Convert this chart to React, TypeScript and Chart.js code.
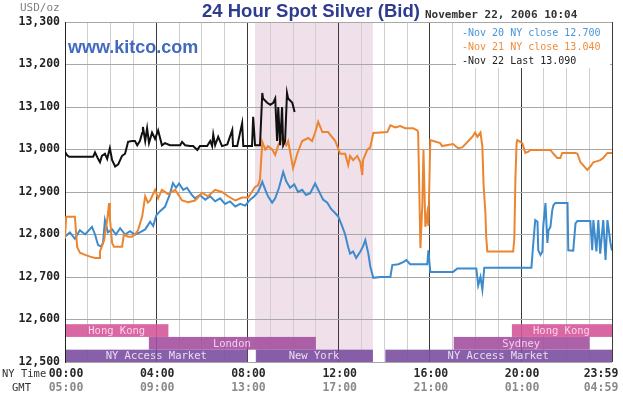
import React, { useEffect, useRef } from "react";
import { Chart, registerables } from "chart.js";

Chart.register(...registerables);

// ---- Data (minutes since 00:00 NY time, USD/oz) ----
const nov20Times = [0, 13, 26, 39, 53, 71, 79, 87, 95, 100, 105, 113, 124, 134, 145, 158, 171, 184, 197, 211, 224, 232, 240, 250, 263, 276, 284, 292, 300, 311, 321, 332, 342, 355, 369, 382, 395, 408, 421, 434, 448, 461, 474, 487, 498, 508, 519, 527, 534, 545, 553, 563, 574, 582, 592, 603, 613, 624, 634, 645, 658, 669, 679, 690, 700, 711, 719, 729, 737, 745, 750, 758, 766, 777, 784, 790, 798, 803, 811, 829, 856, 861, 877, 890, 898, 908, 927, 953, 956, 961, 987, 1021, 1032, 1082, 1087, 1093, 1098, 1103, 1198, 1227, 1232, 1237, 1243, 1245, 1251, 1256, 1258, 1264, 1269, 1272, 1277, 1282, 1285, 1290, 1322, 1324, 1337, 1343, 1348, 1382, 1387, 1390, 1398, 1403, 1408, 1416, 1422, 1427, 1435, 1439];
const nov20Values = [12.795, 12.805, 12.79, 12.81, 12.8, 12.818, 12.8, 12.775, 12.772, 12.78, 12.834, 12.805, 12.812, 12.8, 12.815, 12.8, 12.808, 12.8, 12.805, 12.812, 12.83, 12.82, 12.845, 12.855, 12.865, 12.895, 12.921, 12.91, 12.92, 12.905, 12.91, 12.895, 12.885, 12.893, 12.882, 12.89, 12.878, 12.885, 12.872, 12.878, 12.866, 12.872, 12.868, 12.882, 12.89, 12.9, 12.924, 12.905, 12.89, 12.875, 12.885, 12.91, 12.947, 12.925, 12.91, 12.918, 12.9, 12.905, 12.893, 12.897, 12.92, 12.9, 12.882, 12.875, 12.86, 12.85, 12.842, 12.82, 12.8, 12.77, 12.755, 12.76, 12.745, 12.76, 12.772, 12.787, 12.755, 12.725, 12.698, 12.7, 12.7, 12.728, 12.73, 12.735, 12.74, 12.73, 12.73, 12.73, 12.763, 12.712, 12.712, 12.712, 12.72, 12.72, 12.68, 12.7, 12.67, 12.722, 12.722, 12.722, 12.78, 12.834, 12.83, 12.763, 12.752, 12.76, 12.818, 12.874, 12.78, 12.81, 12.818, 12.858, 12.869, 12.874, 12.874, 12.763, 12.762, 12.826, 12.832, 12.832, 12.763, 12.834, 12.76, 12.834, 12.755, 12.834, 12.74, 12.834, 12.78, 12.762];

const nov21Times = [0, 3, 26, 32, 39, 53, 66, 79, 90, 92, 103, 111, 116, 118, 124, 129, 150, 155, 166, 176, 184, 192, 203, 211, 218, 224, 237, 245, 255, 271, 290, 308, 324, 342, 361, 376, 395, 413, 429, 448, 466, 482, 500, 508, 513, 519, 527, 534, 545, 553, 561, 571, 582, 587, 600, 611, 624, 640, 650, 658, 666, 677, 692, 711, 724, 737, 745, 750, 758, 769, 777, 782, 784, 795, 803, 811, 848, 856, 869, 882, 895, 916, 927, 929, 932, 935, 940, 943, 948, 953, 956, 961, 987, 992, 1021, 1034, 1045, 1058, 1072, 1079, 1085, 1093, 1098, 1101, 1106, 1108, 1111, 1179, 1182, 1185, 1188, 1190, 1203, 1211, 1219, 1224, 1251, 1277, 1285, 1295, 1303, 1308, 1343, 1348, 1356, 1364, 1374, 1382, 1390, 1398, 1408, 1416, 1427, 1439];
const nov21Values = [12.79, 12.842, 12.842, 12.771, 12.757, 12.752, 12.748, 12.745, 12.745, 12.76, 12.787, 12.834, 12.874, 12.84, 12.78, 12.771, 12.771, 12.8, 12.795, 12.795, 12.8, 12.81, 12.842, 12.89, 12.875, 12.88, 12.905, 12.885, 12.905, 12.895, 12.905, 12.88, 12.876, 12.88, 12.898, 12.89, 12.905, 12.9, 12.89, 12.88, 12.887, 12.887, 12.912, 12.916, 12.93, 13.018, 13.0, 13.008, 13.0, 12.987, 13.01, 13.027, 13.01, 13.02, 12.956, 12.99, 13.02, 13.027, 13.02, 13.04, 13.065, 13.041, 13.041, 13.02, 12.99, 12.99, 12.963, 12.985, 12.975, 12.985, 12.97, 12.94, 12.975, 12.999, 13.005, 13.039, 13.041, 13.057, 13.052, 13.055, 13.05, 13.05, 13.045, 13.04, 12.905, 12.768, 12.87, 13.0, 12.818, 12.85, 12.82, 13.022, 13.015, 13.008, 13.013, 13.003, 13.005, 13.017, 13.03, 13.04, 13.03, 13.04, 13.006, 12.92, 12.85, 12.795, 12.76, 12.76, 12.79, 12.935, 13.015, 13.022, 13.015, 12.992, 12.995, 12.999, 12.999, 12.999, 12.99, 12.98, 12.98, 12.992, 12.992, 12.99, 12.97, 12.962, 12.952, 12.96, 12.97, 12.972, 12.975, 12.98, 12.992, 12.992];

const nov22Times = [0, 5, 11, 74, 79, 87, 92, 97, 105, 111, 118, 124, 132, 140, 150, 158, 166, 176, 184, 190, 197, 203, 205, 211, 216, 221, 229, 237, 245, 255, 263, 276, 303, 308, 316, 329, 337, 348, 355, 374, 382, 387, 390, 395, 403, 413, 427, 440, 442, 453, 466, 469, 492, 495, 500, 513, 519, 521, 532, 540, 548, 553, 558, 561, 566, 571, 574, 579, 584, 587, 598, 604];
const nov22Values = [12.995, 12.987, 12.983, 12.983, 12.993, 12.978, 12.97, 12.985, 12.99, 12.978, 13.003, 12.975, 12.96, 12.965, 12.985, 12.99, 13.018, 13.02, 13.02, 13.01, 13.02, 13.039, 13.053, 13.02, 13.05, 13.015, 13.04, 13.025, 13.045, 13.01, 13.015, 13.01, 13.01, 13.018, 13.01, 13.008, 13.008, 12.999, 13.008, 13.008, 13.02, 13.008, 13.035, 13.01, 13.03, 13.008, 13.012, 13.046, 13.008, 13.008, 13.062, 13.008, 13.008, 13.077, 13.01, 13.01, 13.133, 13.12, 13.11, 13.105, 13.11, 13.12, 13.02, 13.1, 13.01, 13.1, 13.01, 13.02, 13.133, 13.12, 13.11, 13.088];

const seriesLabels = ["-Nov 20 NY close 12.700", "-Nov 21 NY close 13.040", "-Nov 22 Last 13.090"];
const seriesColors = ["#3d8bcd", "#ec8530", "#111111"];
const legendColors = ["#4a94d6", "#ee8d3c", "#222222"];

// ---- Axes / ticks ----
const yTickValues = [12.5, 12.6, 12.7, 12.8, 12.9, 13.0, 13.1, 13.2, 13.3];
const hourTicks = [0, 60, 120, 180, 240, 300, 360, 420, 480, 540, 600, 660, 720, 780, 840, 900, 960, 1020, 1080, 1140, 1200, 1260, 1320, 1380, 1439];
const majorTicks = [0, 240, 480, 720, 960, 1200, 1439];
const nyTimeLabels = ["00:00", "04:00", "08:00", "12:00", "16:00", "20:00", "23:59"];
const gmtLabels = ["05:00", "09:00", "13:00", "17:00", "21:00", "01:00", "04:59"];

// ---- Market sessions ----
const bandNames = ["Hong Kong", "London", "NY Access Market", "New York", "NY Access Market", "Sydney", "Hong Kong"];
const bandStarts = [0, 218, 0, 500, 840, 1020, 1173];
const bandEnds = [272, 660, 480, 810, 1439, 1380, 1439];
const bandRows = [0, 1, 2, 2, 2, 1, 0];
const bandFill = ["#d4579a", "#a4509f", "#7b4fa0", "#7b4fa0", "#7b4fa0", "#a4509f", "#d4579a"];
const bandText = ["#fbd3ea", "#f6cdf0", "#e9dcf6", "#e9dcf6", "#e9dcf6", "#f6cdf0", "#fbd3ea"];
const closedStarts = [0, 1380, 480, 810];
const closedEnds = [218, 1439, 500, 840];
const closedRows = [1, 1, 2, 2];
const rowTops = [12.589, 12.559, 12.529];
const rowBottoms = [12.559, 12.529, 12.5];
const nyShadeStart = 500;
const nyShadeEnd = 810;

const MONO = "'DejaVu Sans Mono', monospace";
const SANS = "'Liberation Sans', Arial, sans-serif";

const decorPlugin = {
  id: "decor",
  beforeDraw(chart: any) {
    const { ctx, chartArea, scales } = chart;
    const x = scales.x;
    ctx.save();
    ctx.fillStyle = "#f0e0ea";
    const x0 = x.getPixelForValue(nyShadeStart);
    const x1 = x.getPixelForValue(nyShadeEnd);
    ctx.fillRect(x0, chartArea.top, x1 - x0, chartArea.bottom - chartArea.top);
    ctx.restore();
  },
  beforeDatasetsDraw(chart: any) {
    const { ctx, scales } = chart;
    const x = scales.x;
    const y = scales.y;
    ctx.save();
    for (let i = 0; i < closedStarts.length; i++) {
      const x0 = x.getPixelForValue(closedStarts[i]);
      const x1 = x.getPixelForValue(closedEnds[i]);
      const y0 = y.getPixelForValue(rowTops[closedRows[i]]);
      const y1 = y.getPixelForValue(rowBottoms[closedRows[i]]);
      ctx.fillStyle = "#ffffff";
      ctx.fillRect(x0 + 1, y0, x1 - x0 - 1, y1 - y0);
    }
    ctx.globalAlpha = 0.9;
    for (let i = 0; i < bandNames.length; i++) {
      const x0 = x.getPixelForValue(bandStarts[i]);
      const x1 = x.getPixelForValue(bandEnds[i]);
      const y0 = y.getPixelForValue(rowTops[bandRows[i]]);
      const y1 = y.getPixelForValue(rowBottoms[bandRows[i]]);
      ctx.fillStyle = bandFill[i];
      ctx.fillRect(x0 + 1, y0, x1 - x0 - 1, y1 - y0);
    }
    ctx.globalAlpha = 1;
    ctx.font = `10.5px ${MONO}`;
    ctx.textAlign = "center";
    ctx.textBaseline = "middle";
    for (let i = 0; i < bandNames.length; i++) {
      const x0 = x.getPixelForValue(bandStarts[i]);
      const x1 = x.getPixelForValue(bandEnds[i]);
      const y0 = y.getPixelForValue(rowTops[bandRows[i]]);
      const y1 = y.getPixelForValue(rowBottoms[bandRows[i]]);
      ctx.fillStyle = bandText[i];
      ctx.fillText(bandNames[i], (x0 + x1) / 2, (y0 + y1) / 2 + 0.5);
    }
    ctx.restore();
  },
  afterDatasetsDraw(chart: any) {
    const { ctx } = chart;
    ctx.save();
    ctx.fillStyle = "#ffffff";
    ctx.fillRect(456, 23, 154, 45);
    ctx.font = `10px ${MONO}`;
    ctx.textAlign = "left";
    ctx.textBaseline = "middle";
    for (let i = 0; i < seriesLabels.length; i++) {
      ctx.fillStyle = legendColors[i];
      ctx.fillText(seriesLabels[i], 462, 33 + i * 14);
    }
    ctx.restore();
  },
  afterDraw(chart: any) {
    const { ctx, scales } = chart;
    const x = scales.x;
    ctx.save();
    // title
    ctx.textBaseline = "middle";
    ctx.textAlign = "center";
    ctx.fillStyle = "#2f3b8f";
    ctx.font = `bold 18.5px ${SANS}`;
    ctx.fillText("24 Hour Spot Silver (Bid)", 311, 12);
    ctx.textAlign = "left";
    ctx.fillStyle = "#333333";
    ctx.font = `bold 11px ${MONO}`;
    ctx.fillText("November 22, 2006 10:04", 425, 15);
    // unit
    ctx.fillStyle = "#808080";
    ctx.font = `11px ${MONO}`;
    ctx.fillText("USD/oz", 20, 8);
    // watermark
    ctx.fillStyle = "#4169c2";
    ctx.font = `bold 18px ${SANS}`;
    ctx.fillText("www.kitco.com", 68, 48);
    // x labels
    ctx.font = `10.5px ${MONO}`;
    ctx.fillStyle = "#333333";
    ctx.fillText("NY Time", 2, 374);
    ctx.fillText("GMT", 12, 388);
    ctx.textAlign = "center";
    for (let i = 0; i < majorTicks.length; i++) {
      let px = x.getPixelForValue(majorTicks[i]);
      if (i === majorTicks.length - 1) px = Math.min(px, 600);
      ctx.font = `bold 11.5px ${MONO}`;
      ctx.fillStyle = "#2a2a2a";
      ctx.fillText(nyTimeLabels[i], px + 1, 374);
      ctx.fillStyle = "#8a8a8a";
      ctx.fillText(gmtLabels[i], px + 1, 388);
    }
    ctx.restore();
  },
};

export default function App() {
  const canvasRef = useRef<HTMLCanvasElement | null>(null);

  useEffect(() => {
    document.body.style.margin = "0";
    const canvas = canvasRef.current;
    if (!canvas) return;
    const mk = (times: number[], values: number[]) => times.map((t, i) => ({ x: t, y: values[i] }));
    const chart = new Chart(canvas, {
      type: "line",
      data: {
        datasets: [
          { label: seriesLabels[2], data: mk(nov22Times, nov22Values), borderColor: seriesColors[2], borderWidth: 2, pointRadius: 0, tension: 0, order: 0 },
          { label: seriesLabels[1], data: mk(nov21Times, nov21Values), borderColor: seriesColors[1], borderWidth: 2, pointRadius: 0, tension: 0, order: 1 },
          { label: seriesLabels[0], data: mk(nov20Times, nov20Values), borderColor: seriesColors[0], borderWidth: 2, pointRadius: 0, tension: 0, order: 2 },
        ],
      },
      options: {
        animation: false,
        responsive: false,
        devicePixelRatio: 1,
        events: [],
        layout: { padding: { top: 22, right: 11, left: 0, bottom: 0 }, autoPadding: false },
        plugins: { legend: { display: false }, title: { display: false }, tooltip: { enabled: false } },
        scales: {
          x: {
            type: "linear",
            min: 0,
            max: 1439,
            position: "bottom",
            afterBuildTicks: (s: any) => {
              s.ticks = hourTicks.map((v) => ({ value: v }));
            },
            afterFit: (s: any) => {
              s.height = 33;
            },
            ticks: { display: false },
            grid: {
              drawTicks: false,
              color: (c: any) => (majorTicks.includes(c.tick?.value) ? "#3a3a3a" : "#cfcfcf"),
              lineWidth: 1,
            },
            border: { display: false },
          },
          y: {
            type: "linear",
            min: 12.5,
            max: 13.3,
            afterBuildTicks: (s: any) => {
              s.ticks = yTickValues.map((v) => ({ value: v }));
            },
            afterFit: (s: any) => {
              s.width = 65;
            },
            ticks: {
              padding: 5,
              color: "#222222",
              font: { family: MONO, size: 11.5, weight: "bold" },
              callback: (v: any) => Number(v).toFixed(3).replace(".", ","),
            },
            grid: { drawTicks: false, color: "#a8a8a8", lineWidth: 1 },
            border: { display: true, color: "#222222", width: 1 },
          },
        },
      },
      plugins: [decorPlugin],
    } as any);
    return () => chart.destroy();
  }, []);

  return <canvas ref={canvasRef} width={623} height={395} style={{ display: "block" }} />;
}
